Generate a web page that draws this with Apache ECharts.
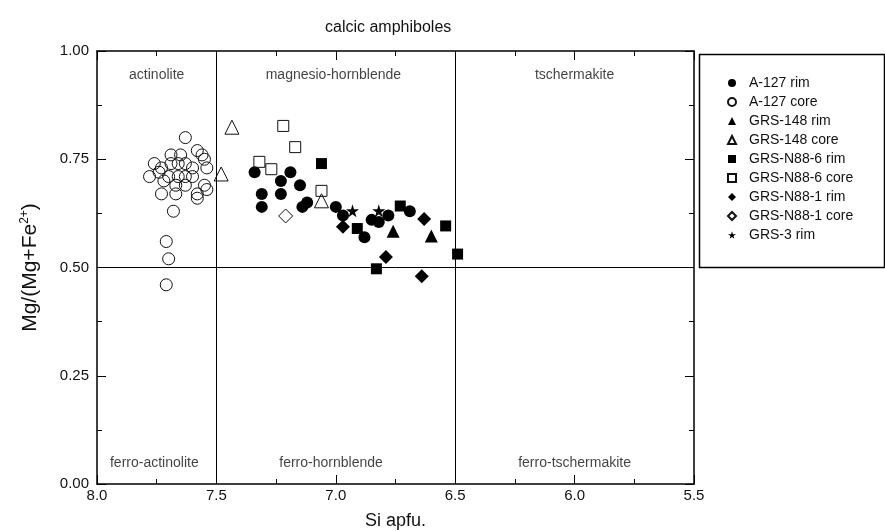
<!DOCTYPE html>
<html>
<head>
<meta charset="utf-8" />
<script src="https://cdn.jsdelivr.net/npm/echarts@6/dist/echarts.min.js"></script>
<style>html,body{margin:0;padding:0;background:#fff;}</style>
</head>
<body>
<div id="main" style="width:885px;height:531px;"></div>
<script type="text/javascript">
// series names (legend order)
var categories = ['A-127 rim', 'A-127 core', 'GRS-148 rim', 'GRS-148 core', 'GRS-N88-6 rim',
  'GRS-N88-6 core', 'GRS-N88-1 rim', 'GRS-N88-1 core', 'GRS-3 rim'];

// [Si apfu, Mg/(Mg+Fe2+)]
var a127Rim = [[7.34,0.72],[7.19,0.72],[7.23,0.70],[7.15,0.69],[7.31,0.67],[7.23,0.67],[7.31,0.64],
  [7.14,0.64],[7.12,0.65],[7.00,0.64],[6.88,0.57],[6.85,0.61],[6.82,0.605],[6.78,0.62],[6.69,0.63],[6.97,0.62]];
var a127Core = [[7.63,0.80],[7.58,0.77],[7.56,0.76],[7.54,0.73],[7.55,0.75],[7.76,0.74],[7.73,0.73],
  [7.69,0.74],[7.66,0.74],[7.63,0.74],[7.78,0.71],[7.74,0.72],[7.70,0.71],[7.66,0.71],[7.63,0.71],
  [7.60,0.71],[7.73,0.67],[7.67,0.69],[7.63,0.69],[7.67,0.67],[7.58,0.67],[7.55,0.69],[7.54,0.68],
  [7.58,0.66],[7.68,0.63],[7.71,0.56],[7.70,0.52],[7.71,0.46],[7.72,0.70],[7.60,0.73],[7.69,0.76],[7.65,0.76]];
var grs148Rim = [[6.76,0.584],[6.60,0.573]];
var grs148Core = [[7.435,0.824],[7.48,0.716],[7.06,0.654]];
var n886Rim = [[7.06,0.74],[6.91,0.59],[6.73,0.642],[6.54,0.596],[6.49,0.531],[6.83,0.497]];
var n886Core = [[7.22,0.827],[7.17,0.778],[7.32,0.744],[7.27,0.727],[7.06,0.677]];
var n881Rim = [[6.97,0.594],[6.63,0.612],[6.79,0.524],[6.64,0.48]];
var n881Core = [[7.21,0.619]];
var grs3Rim = [[6.93,0.631],[6.82,0.631]];

// field names and where they sit
var fieldNames = ['actinolite', 'magnesio-hornblende', 'tschermakite', 'ferro-actinolite', 'ferro-hornblende', 'ferro-tschermakite'];
var fieldAnchors = [[7.75,0.945],[7.01,0.945],[6.0,0.945],[7.76,0.048],[7.02,0.048],[6.0,0.048]];
var dividerSi = [7.5, 6.5];
var dividerMg = [0.5];

var starPath = 'path://M50,0 L61,35 L98,35 L68,57 L79,91 L50,70 L21,91 L32,57 L2,35 L39,35 Z';
var FONT = 'Liberation Sans, Arial, sans-serif';

function pts(name, data, symbol, size, filled) {
  return {
    name: name, type: 'scatter', data: data, symbol: symbol, symbolSize: size,
    itemStyle: filled ? { color: '#000', opacity: 1 } : { color: 'rgba(0,0,0,0)', borderColor: '#111', borderWidth: 1, opacity: 1 },
    emphasis: { disabled: true }
  };
}

var fieldData = fieldNames.map(function (n, i) { return { name: n, value: fieldAnchors[i] }; });
var dividers = dividerSi.map(function (v) { return { xAxis: v }; })
  .concat(dividerMg.map(function (v) { return { yAxis: v }; }));

function axisCommon(pos, showLabel) {
  return {
    position: pos,
    axisLine: { onZero: false, lineStyle: { color: '#000', width: 1.5 } },
    axisTick: { inside: true, length: 9, lineStyle: { color: '#000' } },
    minorTick: { show: true, splitNumber: 2, length: 5, lineStyle: { color: '#000' } },
    splitLine: { show: false },
    axisLabel: { show: showLabel, fontSize: 15, color: '#111', fontFamily: FONT }
  };
}

var xb = axisCommon('bottom', true);
xb.type = 'value'; xb.min = 5.5; xb.max = 8; xb.interval = 0.5; xb.inverse = true;
xb.axisLabel.formatter = function (v) { return v.toFixed(1); };
xb.axisLabel.margin = 4;
xb.name = 'Si apfu.'; xb.nameLocation = 'middle'; xb.nameGap = 28;
xb.nameTextStyle = { fontSize: 18, color: '#111', fontFamily: FONT };
var xt = axisCommon('top', false);
xt.type = 'value'; xt.min = 5.5; xt.max = 8; xt.interval = 0.5; xt.inverse = true;

var yl = axisCommon('left', true);
yl.type = 'value'; yl.min = 0; yl.max = 1; yl.interval = 0.25;
yl.axisLabel.formatter = function (v) { return v.toFixed(2); };
yl.name = 'Mg/(Mg+Fe{sup|2+})'; yl.nameLocation = 'middle'; yl.nameGap = 56;
yl.nameTextStyle = { fontSize: 21, color: '#111', fontFamily: FONT,
  rich: { sup: { fontSize: 12, verticalAlign: 'top', padding: [0, 0, 10, 0], fontFamily: FONT, color: '#111' } } };
var yr = axisCommon('right', false);
yr.type = 'value'; yr.min = 0; yr.max = 1; yr.interval = 0.25;

var myChart = echarts.init(document.getElementById('main'));
var option = {
  backgroundColor: '#fff',
  animation: false,
  textStyle: { fontFamily: FONT },
  title: { text: 'calcic amphiboles', left: 325, top: 20, padding: 0,
    textStyle: { fontSize: 16, fontWeight: 'normal', color: '#111', fontFamily: FONT } },
  grid: { left: 97, right: 191, top: 51, bottom: 47, outerBoundsMode: 'none', containLabel: false },
  xAxis: [xb, xt],
  yAxis: [yl, yr],
  legend: {
    data: categories, orient: 'vertical', left: 727, top: 76, padding: 0,
    itemWidth: 8, itemHeight: 8, itemGap: 5,
    textStyle: { fontSize: 14, color: '#111', fontFamily: FONT, padding: [0, 0, 0, 8] }
  },
  graphic: [{ type: 'rect', left: 697, top: 52, shape: { width: 185, height: 213 },
    style: { fill: 'none', stroke: '#000', lineWidth: 1.5 } }],
  series: [
    pts(categories[0], a127Rim, 'circle', 12, true),
    pts(categories[1], a127Core, 'circle', 12, false),
    pts(categories[2], grs148Rim, 'triangle', 13, true),
    pts(categories[3], grs148Core, 'triangle', 14, false),
    pts(categories[4], n886Rim, 'rect', 11, true),
    pts(categories[5], n886Core, 'rect', 11, false),
    pts(categories[6], n881Rim, 'diamond', 14, true),
    pts(categories[7], n881Core, 'diamond', 14, false),
    pts(categories[8], grs3Rim, starPath, 13, true),
    {
      name: 'fields', type: 'scatter', data: fieldData, symbolSize: 0, silent: true,
      label: { show: true, position: 'inside', formatter: '{b}', fontSize: 14, color: '#111', fontFamily: FONT },
      markLine: { symbol: 'none', silent: true, label: { show: false },
        lineStyle: { color: '#000', type: 'solid', width: 1 }, data: dividers }
    }
  ]
};
myChart.setOption(option);
</script>
</body>
</html>
